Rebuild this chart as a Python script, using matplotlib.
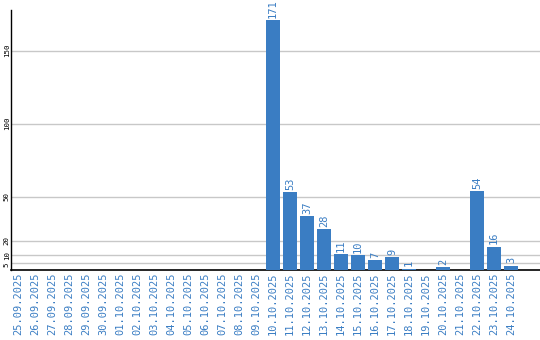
import matplotlib
matplotlib.use("Agg")
import matplotlib.pyplot as plt
import numpy as np

dates = ['25.09.2025', '26.09.2025', '27.09.2025', '28.09.2025', '29.09.2025',
         '30.09.2025', '01.10.2025', '02.10.2025', '03.10.2025', '04.10.2025',
         '05.10.2025', '06.10.2025', '07.10.2025', '08.10.2025', '09.10.2025',
         '10.10.2025', '11.10.2025', '12.10.2025', '13.10.2025', '14.10.2025',
         '15.10.2025', '16.10.2025', '17.10.2025', '18.10.2025', '19.10.2025',
         '20.10.2025', '21.10.2025', '22.10.2025', '23.10.2025', '24.10.2025']
counts = [0, 0, 0, 0, 0, 0, 0, 0, 0, 0, 0, 0, 0, 0, 0,
          171, 53, 37, 28, 11, 10, 7, 9, 1, 0, 2, 0, 54, 16, 3]
yticks = [5, 10, 20, 50, 100, 150]

blue = '#3a7dc3'
mono = 'DejaVu Sans Mono'

fig = plt.figure(figsize=(5.4, 3.4), dpi=100)
ax = fig.add_axes([11 / 540, 70 / 340, 529 / 540, 260 / 340])

x = np.arange(len(dates))
ax.bar(x, counts, width=14 / 17, color=blue, zorder=3)

# value labels above the bars
for xi, c in zip(x, counts):
    if c > 0:
        ax.text(xi, c + 1.5, str(c), rotation=90, ha='center', va='bottom',
                color=blue, fontsize=7.5, family=mono)

ax.set_xlim(-7 / 17, (540 - 18) / 17)
ax.set_ylim(0, 177.7)
ax.set_yticks(yticks)
ax.set_yticklabels([str(t) for t in yticks], rotation=90, va='center',
                   fontsize=5.4, family=mono)
# the "5" label sits a little below its line in the original
ax.get_yticklabels()[0].set_va('top')
ax.grid(axis='y', color='#c8c8c8', linewidth=1, zorder=0)

ax.set_xticks(x)
ax.set_xticklabels(dates, rotation=90, color=blue, fontsize=7.5, family=mono,
                   va='top', ha='center')
ax.tick_params(axis='both', length=0, pad=2)
ax.tick_params(axis='y', pad=1)

for s in ['top', 'right']:
    ax.spines[s].set_visible(False)
ax.spines['left'].set_linewidth(1)
ax.spines['bottom'].set_linewidth(1.2)

fig.savefig('out.png', dpi=100)
